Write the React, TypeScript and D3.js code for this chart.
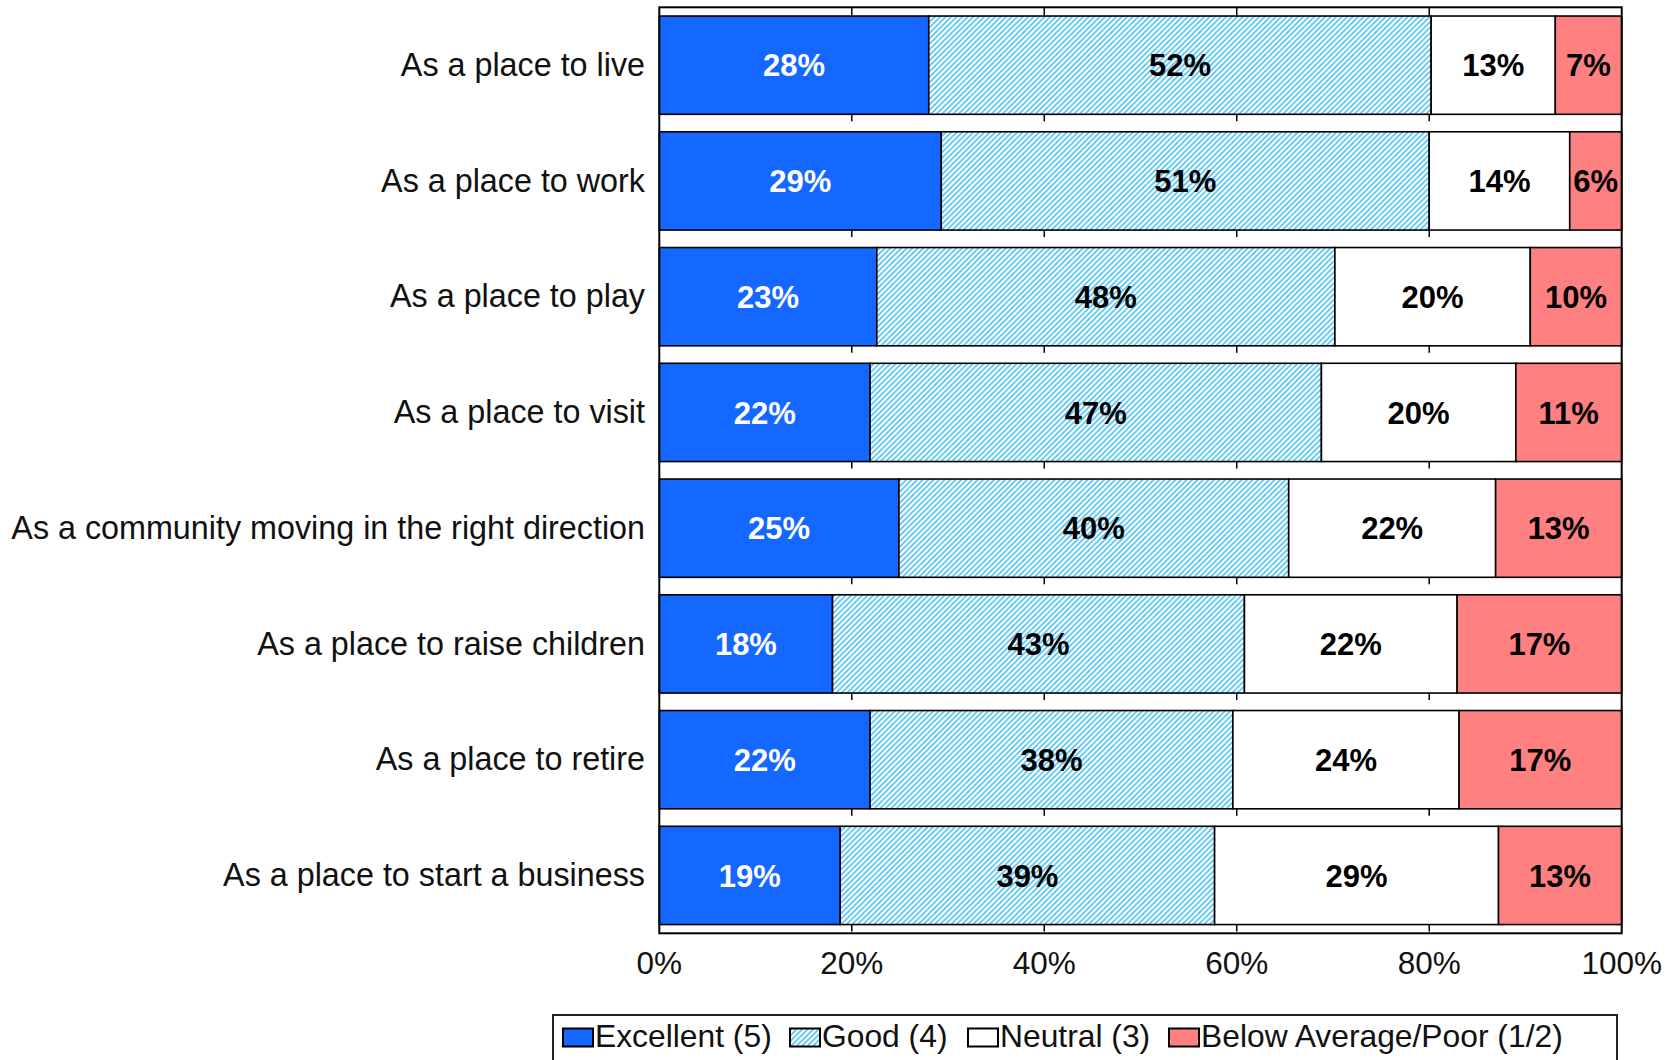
import React from "react";
import * as d3 from "d3";

const categories = [
  "As a place to live",
  "As a place to work",
  "As a place to play",
  "As a place to visit",
  "As a community moving in the right direction",
  "As a place to raise children",
  "As a place to retire",
  "As a place to start a business",
];
const seriesNames = ["Excellent (5)", "Good (4)", "Neutral (3)", "Below Average/Poor (1/2)"];
const excellent = [28.0, 29.3, 22.6, 21.9, 24.9, 18.0, 21.9, 18.8];
const good = [52.2, 50.7, 47.6, 46.9, 40.5, 42.8, 37.7, 38.9];
const neutral = [12.9, 14.6, 20.3, 20.2, 21.5, 22.1, 23.5, 29.5];
const poor = [6.9, 5.4, 9.5, 11.0, 13.1, 17.1, 16.9, 12.8];
const excellentLabels = [28, 29, 23, 22, 25, 18, 22, 19];
const goodLabels = [52, 51, 48, 47, 40, 43, 38, 39];
const neutralLabels = [13, 14, 20, 20, 22, 22, 24, 29];
const poorLabels = [7, 6, 10, 11, 13, 17, 17, 13];
const xTicks = [0, 20, 40, 60, 80, 100];

const W = 1673;
const H = 1060;
const plotLeft = 659.3;
const plotRight = 1621.7;
const plotTop = 7.3;
const plotBottom = 933.3;

const keys = ["excellent", "good", "neutral", "poor"];
const fills = ["#1467FF", "url(#hatch)", "#FFFFFF", "#FF8080"];
const textFills = ["#FFFFFF", "#000000", "#000000", "#000000"];
const legendX = [563, 790, 968, 1169];

export default function App() {
  const rows = categories.map((c, i) => ({
    category: c,
    excellent: excellent[i],
    good: good[i],
    neutral: neutral[i],
    poor: poor[i],
  }));
  const labelSets = [excellentLabels, goodLabels, neutralLabels, poorLabels];
  const stacked = d3.stack<any>().keys(keys)(rows);

  const x = d3.scaleLinear().domain([0, 100]).range([plotLeft, plotRight]);
  const y = d3
    .scaleBand<string>()
    .domain(categories)
    .range([plotTop, plotBottom])
    .paddingInner(0.151)
    .paddingOuter(0.0755);
  const bw = y.bandwidth();
  const font = "'Liberation Sans', Arial, sans-serif";

  return (
    <svg
      width={W}
      height={H}
      style={{ position: "absolute", left: 0, top: 0, display: "block", background: "#fff" }}
    >
      <defs>
        <pattern id="hatch" patternUnits="userSpaceOnUse" width={5.5} height={5.5}>
          <rect width={5.5} height={5.5} fill="#ffffff" />
          <path
            d="M0,5.5 L5.5,0 M-1,1 L1,-1 M4.5,6.5 L6.5,4.5"
            stroke="#45BFF4"
            strokeWidth={1.5}
          />
        </pattern>
      </defs>

      {/* plot background */}
      <rect x={plotLeft} y={plotTop} width={plotRight - plotLeft} height={plotBottom - plotTop} fill="#fff" />

      {/* gridline stubs visible in gaps */}
      {xTicks
        .filter((t) => t > 0 && t < 100)
        .map((t) => (
          <g key={"g" + t}>
            <line x1={x(t)} x2={x(t)} y1={plotTop} y2={y(categories[0])!} stroke="#000" strokeWidth={1.5} />
            {categories.map((c) => (
              <line
                key={c}
                x1={x(t)}
                x2={x(t)}
                y1={y(c)! + bw}
                y2={y(c)! + bw + 7}
                stroke="#000"
                strokeWidth={1.5}
              />
            ))}
          </g>
        ))}

      {/* bars */}
      {stacked.map((layer, si) => (
        <g key={layer.key}>
          {layer.map((d, i) => (
            <rect
              key={i}
              x={x(d[0])}
              y={y(categories[i])}
              width={x(d[1]) - x(d[0])}
              height={bw}
              fill={fills[si]}
              stroke="#000"
              strokeWidth={1.6}
            />
          ))}
        </g>
      ))}

      {/* value labels */}
      {stacked.map((layer, si) => (
        <g key={"l" + layer.key}>
          {layer.map((d, i) => (
            <text
              key={i}
              x={(x(d[0]) + x(d[1])) / 2}
              y={y(categories[i])! + bw / 2}
              dy="0.36em"
              textAnchor="middle"
              fontFamily={font}
              fontWeight="bold"
              fontSize={31}
              fill={textFills[si]}
            >
              {labelSets[si][i] + "%"}
            </text>
          ))}
        </g>
      ))}

      {/* plot border */}
      <rect
        x={plotLeft}
        y={plotTop}
        width={plotRight - plotLeft}
        height={plotBottom - plotTop}
        fill="none"
        stroke="#000"
        strokeWidth={2}
      />

      {/* category labels */}
      {categories.map((c) => (
        <text
          key={c}
          x={645}
          y={y(c)! + bw / 2}
          dy="0.33em"
          textAnchor="end"
          fontFamily={font}
          fontSize={32.3}
          fill="#111"
        >
          {c}
        </text>
      ))}

      {/* x tick labels */}
      {xTicks.map((t) => (
        <text
          key={"t" + t}
          x={x(t)}
          y={974}
          textAnchor="middle"
          fontFamily={font}
          fontSize={31.5}
          fill="#111"
        >
          {t + "%"}
        </text>
      ))}

      {/* legend */}
      <rect x={553} y={1015} width={1064} height={80} fill="#fff" stroke="#222" strokeWidth={2} />
      {seriesNames.map((n, i) => (
        <g key={n}>
          <rect x={legendX[i]} y={1028.5} width={30} height={18} fill={fills[i]} stroke="#000" strokeWidth={2} />
          <text x={legendX[i] + 32} y={1047} fontFamily={font} fontSize={31.8} fill="#111">
            {n}
          </text>
        </g>
      ))}
    </svg>
  );
}
